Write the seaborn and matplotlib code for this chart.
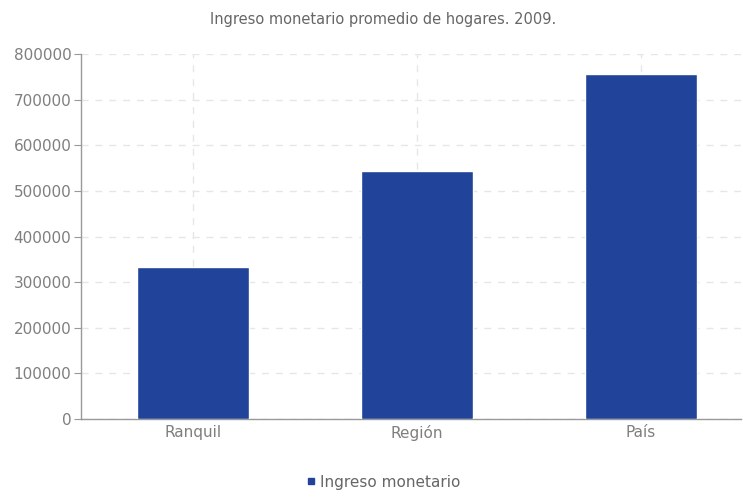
import matplotlib.pyplot as plt
import pandas as pd
import seaborn as sns
from matplotlib.lines import Line2D

categorias = ['Ranquil', 'Región', 'País']
ingreso = [333000, 544000, 756000]
yticks = [0, 100000, 200000, 300000, 400000, 500000, 600000, 700000, 800000]

df = pd.DataFrame({'Zona': categorias, 'Ingreso monetario': ingreso})

sns.set_style('white')
plt.rcParams['font.family'] = ['DejaVu Sans']

fig = plt.figure(figsize=(7.43, 4.97), dpi=100)
ax = fig.add_axes([0.109, 0.157, 0.888, 0.734])

color = '#21449a'
sns.barplot(data=df, x='Zona', y='Ingreso monetario', color=color, width=0.5,
            saturation=1, ax=ax, zorder=3)

ax.set_ylim(0, 800000)
ax.set_xlim(-0.5, 2.446)
ax.set_yticks(yticks)
ax.set_yticklabels([str(v) for v in yticks])
ax.set_xlabel('')
ax.set_ylabel('')

ax.grid(True, axis='both', linestyle=(0, (5, 5)), color='#e6e6e6', linewidth=1, zorder=0)
ax.set_axisbelow(True)

for s in ['top', 'right']:
    ax.spines[s].set_visible(False)
for s in ['left', 'bottom']:
    ax.spines[s].set_color('#999999')
    ax.spines[s].set_linewidth(1)

ax.tick_params(axis='y', length=5, color='#999999', labelcolor='#7f7f7f', labelsize=11, pad=2, left=True)
ax.tick_params(axis='x', length=0, labelcolor='#7f7f7f', labelsize=11, pad=4)

fig.text(0.515, 0.96, 'Ingreso monetario promedio de hogares. 2009.', ha='center', va='center',
         color='#666666', fontsize=10.5)

handle = Line2D([], [], marker='s', linestyle='', color=color, markersize=4)
fig.legend([handle], ['Ingreso monetario'], loc='center', bbox_to_anchor=(0.515, 0.03),
           frameon=False, fontsize=11, labelcolor='#666666', handletextpad=0.2, handlelength=0.8)

plt.savefig('out.png', dpi=100)
